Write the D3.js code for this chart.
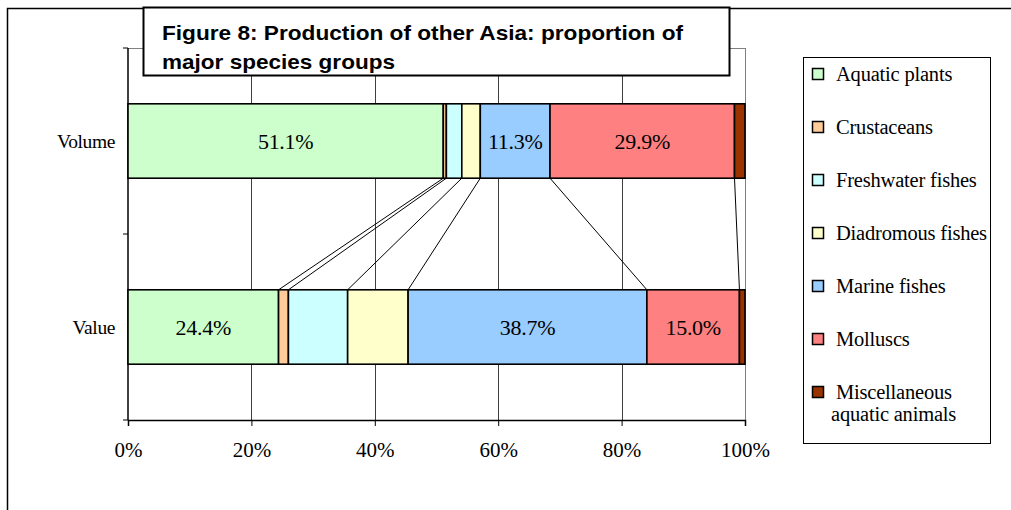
<!DOCTYPE html>
<html><head><meta charset="utf-8">
<script src="https://cdn.jsdelivr.net/npm/d3@7"></script>
<style>
html,body{margin:0;padding:0;background:#fff;}
svg{display:block;}
</style></head>
<body>
<svg id="c" width="1011" height="510"></svg>
<script>
const categories = ["Volume", "Value"];
const groups = ["Aquatic plants", "Crustaceans", "Freshwater fishes", "Diadromous fishes", "Marine fishes", "Molluscs", "Miscellaneous aquatic animals"];
const volumeShares = [51.1, 0.5, 2.5, 3.0, 11.3, 29.9, 1.7];
const valueShares = [24.4, 1.6, 9.6, 9.8, 38.7, 15.0, 0.9];
const colors = ["#CCFFCC", "#FFCC99", "#CCFFFF", "#FFFFCC", "#99CCFF", "#FF8080", "#993300"];
const tickValues = [0, 20, 40, 60, 80, 100];
const titleLines = ["Figure 8: Production of other Asia: proportion of", "major species groups"];

const svg = d3.select("#c");
const serif = "'Liberation Serif','Times New Roman',serif";
const sans = "'Liberation Sans',Arial,sans-serif";

// outer frame
svg.append("rect").attr("x", 7.5).attr("y", 8.5).attr("width", 1100).attr("height", 600)
  .attr("fill", "#fff").attr("stroke", "#000").attr("stroke-width", 1.5);

const plot = {l: 128, r: 745, t: 48, b: 420};
const x = d3.scaleLinear().domain([0, 100]).range([plot.l, plot.r]);
const y = d3.scaleBand().domain(categories).range([plot.t, plot.b]).paddingInner(0.6).paddingOuter(0.3);
const yAxisBand = d3.scaleBand().domain(categories).range([plot.t, plot.b]);

// plot area border (gray, top and right)
svg.append("path").attr("d", `M${plot.l},${plot.t}H${plot.r}V${plot.b}`)
  .attr("fill", "none").attr("stroke", "#808080").attr("stroke-width", 1).attr("shape-rendering", "crispEdges");

// gridlines
svg.append("g").selectAll("line").data(tickValues.filter(v => v > 0 && v < 100)).join("line")
  .attr("x1", d => Math.round(x(d)) + 0.5).attr("x2", d => Math.round(x(d)) + 0.5)
  .attr("y1", plot.t).attr("y2", plot.b).attr("stroke", "#000").attr("stroke-width", 1).attr("opacity", 0.75);

// x axis
const xAxis = d3.axisBottom(x).tickValues(tickValues).tickFormat(d => d + "%").tickSize(6).tickPadding(16);
const gx = svg.append("g").attr("transform", `translate(0,${plot.b})`).call(xAxis);
gx.select(".domain").attr("stroke", "#000").attr("stroke-width", 1.5);
gx.selectAll(".tick line").attr("stroke", "#000");
gx.selectAll(".tick text").attr("font-family", serif).attr("font-size", 21).attr("fill", "#000");

// y axis
const gy = svg.append("g").attr("transform", `translate(${plot.l},0)`);
gy.append("line").attr("x1", 0).attr("x2", 0).attr("y1", plot.t).attr("y2", plot.b).attr("stroke", "#000").attr("stroke-width", 1.5);
const yTicks = [plot.t].concat(categories.map(c => yAxisBand(c) + yAxisBand.bandwidth()));
gy.selectAll("line.t").data(yTicks).join("line").attr("class", "t")
  .attr("x1", -5).attr("x2", 0).attr("y1", d => d).attr("y2", d => d).attr("stroke", "#000");
gy.selectAll("text").data(categories).join("text")
  .attr("x", -13).attr("y", d => y(d) + y.bandwidth() / 2).attr("dy", "0.35em")
  .attr("text-anchor", "end").attr("font-family", serif).attr("font-size", 19.5).attr("letter-spacing", -0.4).text(d => d);

// stacked data
const seriesData = {Volume: volumeShares, Value: valueShares};
function stackOf(vals) {
  let acc = 0;
  return vals.map((v, i) => { const s = {x0: acc, x1: acc + v, v, i}; acc += v; return s; });
}
const stacks = categories.map(c => ({cat: c, segs: stackOf(seriesData[c])}));

// series lines
const vol = stacks[0].segs, val = stacks[1].segs;
svg.append("g").selectAll("line").data(d3.range(groups.length - 1)).join("line")
  .attr("x1", i => x(vol[i].x1)).attr("y1", y("Volume") + y.bandwidth())
  .attr("x2", i => x(val[i].x1)).attr("y2", y("Value"))
  .attr("stroke", "#000").attr("stroke-width", 1);

// bars
const barG = svg.append("g").selectAll("g").data(stacks).join("g");
barG.selectAll("rect").data(d => d.segs.map(s => ({...s, cat: d.cat}))).join("rect")
  .attr("x", d => x(d.x0)).attr("width", d => x(d.x1) - x(d.x0))
  .attr("y", d => y(d.cat)).attr("height", y.bandwidth())
  .attr("fill", d => colors[d.i]).attr("stroke", "#000").attr("stroke-width", 1.6);
barG.selectAll("text").data(d => d.segs.filter(s => s.v >= 10).map(s => ({...s, cat: d.cat}))).join("text")
  .attr("x", d => x((d.x0 + d.x1) / 2)).attr("y", d => y(d.cat) + y.bandwidth() / 2).attr("dy", "0.35em")
  .attr("text-anchor", "middle").attr("font-family", serif).attr("font-size", 22).attr("letter-spacing", -0.3)
  .text(d => d.v.toFixed(1) + "%");

// legend
const lg = svg.append("g");
lg.append("rect").attr("x", 803.5).attr("y", 57.5).attr("width", 187).attr("height", 386)
  .attr("fill", "#fff").attr("stroke", "#000").attr("stroke-width", 1);
const legendY = d3.scalePoint().domain(groups).range([74, 392]);
const li = lg.selectAll("g").data(groups).join("g").attr("transform", d => `translate(0,${legendY(d)})`);
li.append("rect").attr("x", 812.5).attr("y", -5.5).attr("width", 11).attr("height", 11)
  .attr("fill", (d, i) => colors[i]).attr("stroke", "#000").attr("stroke-width", 1.5);
li.append("text").attr("font-family", serif).attr("font-size", 20.5).attr("letter-spacing", -0.2).attr("dy", "0.35em")
  .each(function(d) {
    const t = d3.select(this);
    if (d === "Miscellaneous aquatic animals") {
      t.append("tspan").attr("x", 836).attr("y", 0).text("Miscellaneous");
      t.append("tspan").attr("x", 831).attr("y", 29).text("aquatic animals");
    } else {
      t.append("tspan").attr("x", 836).attr("y", 0).text(d);
    }
  });

// title box
const defs = svg.append("defs");
defs.append("clipPath").attr("id", "tclip").append("rect").attr("x", 143).attr("y", 7).attr("width", 586).attr("height", 67.5);
svg.append("rect").attr("x", 143.5).attr("y", 7.5).attr("width", 586).attr("height", 68)
  .attr("fill", "#fff").attr("stroke", "#000").attr("stroke-width", 2);
const titleWidths = [521, 233];
svg.append("g").attr("clip-path", "url(#tclip)").selectAll("text").data(titleLines).join("text")
  .attr("x", 162).attr("y", (d, i) => 39.5 + i * 29)
  .attr("textLength", (d, i) => titleWidths[i]).attr("lengthAdjust", "spacingAndGlyphs")
  .attr("font-family", sans).attr("font-weight", "bold").attr("font-size", 20.5).text(d => d);
</script>
</body></html>
